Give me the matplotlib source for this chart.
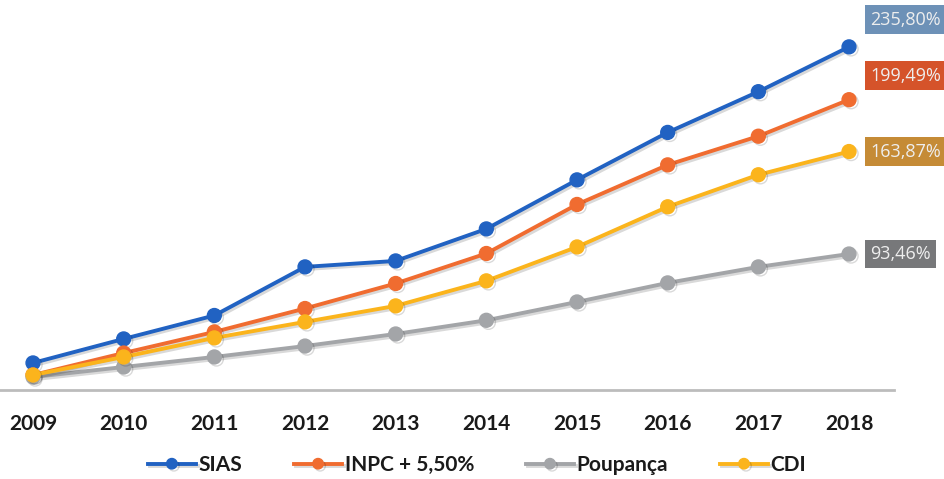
import matplotlib.pyplot as plt
import matplotlib.patheffects as pe

anos = [2009, 2010, 2011, 2012, 2013, 2014, 2015, 2016, 2017, 2018]
sias = [18.6, 35.1, 51.2, 84.6, 88.7, 110.7, 144.4, 177.0, 205.0, 235.80]
inpc = [10.3, 25.4, 39.9, 56.0, 73.2, 93.8, 127.5, 154.7, 174.4, 199.49]
poupanca = [8.9, 15.8, 22.7, 30.2, 38.5, 47.9, 60.5, 73.6, 84.6, 93.46]
cdi = [10.3, 22.7, 35.8, 46.8, 57.8, 75.0, 98.3, 125.9, 147.9, 163.87]

series = [
    ("SIAS", sias, "#2162c2"),
    ("INPC + 5,50%", inpc, "#f06c30"),
    ("Poupança", poupanca, "#a3a5a8"),
    ("CDI", cdi, "#fbb41c"),
]
rotulos = {
    "SIAS": ("235,80%", "#6d91b7", 27),
    "INPC + 5,50%": ("199,49%", "#d5532a", 24),
    "CDI": ("163,87%", "#c58b36", 0),
    "Poupança": ("93,46%", "#77787a", 0),
}

fig = plt.figure(figsize=(9.44, 4.79), dpi=100)
ax = fig.add_axes([0, 1 - 390 / 479, 894 / 944, 390 / 479])

sombra = [pe.SimpleLineShadow(offset=(1.5, -1.5), alpha=0.15), pe.Normal()]
for nome, valores, cor in series:
    ax.plot(anos, valores, color=cor, linewidth=2.8, marker="o",
            markersize=10, label=nome, path_effects=sombra)

for nome, valores, cor in series:
    texto, cor_caixa, dy = rotulos[nome]
    ax.annotate(texto, (anos[-1], valores[-1]), xytext=(21, dy),
                textcoords="offset pixels", ha="left", va="center",
                fontsize=13, family="Open Sans", color="#eeeeee",
                bbox=dict(boxstyle="square,pad=0.3", fc=cor_caixa, ec="none"),
                annotation_clip=False)

ax.set_xlim(2008.636, 2018.496)
ax.set_ylim(0, 268)
ax.set_xticks(anos)
ax.set_xticklabels([str(a) for a in anos], fontsize=15, fontweight="bold",
                   family="Lato", color="#1a1a1a")
ax.tick_params(axis="x", length=0, pad=17)
ax.set_yticks([])
for lado in ["top", "right", "left"]:
    ax.spines[lado].set_visible(False)
ax.spines["bottom"].set_color("#bcbcbc")
ax.spines["bottom"].set_linewidth(2)

leg = fig.legend(loc="center", bbox_to_anchor=(477 / 944, 1 - 465 / 479),
                 ncol=4, frameon=False, handlelength=2.3, handletextpad=0.12,
                 columnspacing=2.5, markerscale=0.75,
                 prop={"family": "Lato", "weight": "bold", "size": 15})
for t in leg.get_texts():
    t.set_color("#1a1a1a")

fig.savefig("out.png", dpi=100)
